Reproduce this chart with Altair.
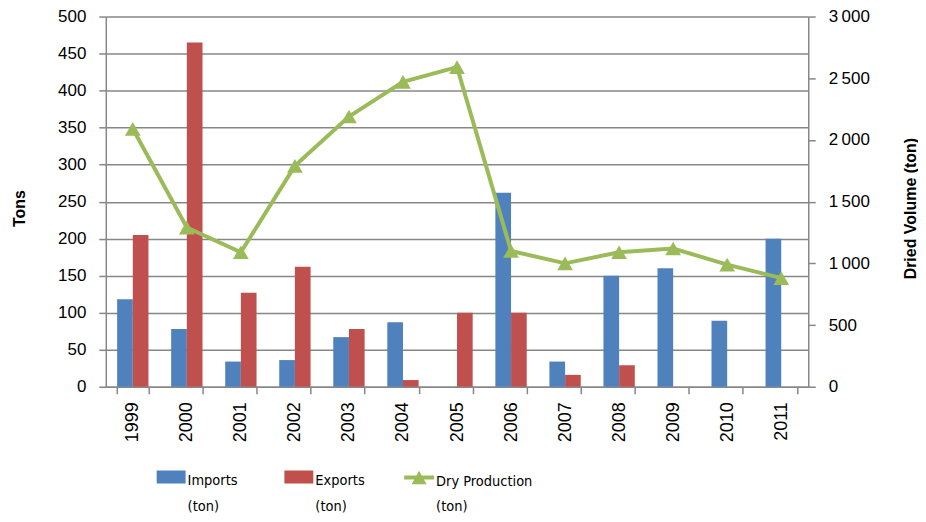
import altair as alt
import pandas as pd

years = ["1999", "2000", "2001", "2002", "2003", "2004", "2005",
         "2006", "2007", "2008", "2009", "2010", "2011"]
imports_ton = [118, 78, 34, 36, 67, 87, 0, 262, 34, 150, 160, 89, 200]
exports_ton = [205, 465, 127, 162, 78, 9, 100, 100, 16, 29, 0, 0, 0]
dry_production = [2090, 1290, 1090, 1790, 2190, 2470, 2590, 1100, 1000, 1090, 1120, 990, 880]

bar_series = ["Imports (ton)", "Exports (ton)"]
line_series = "Dry Production (ton)"
left_ticks = list(range(0, 501, 50))
right_ticks = list(range(0, 3001, 500))

BLUE = "#4F81BD"
RED = "#C0504D"
GREEN = "#9BBB59"
GRID = "#878787"
LEGEND_FONT = "'DejaVu Sans Condensed', 'Roboto Condensed', 'Liberation Sans', sans-serif"

bar_df = pd.DataFrame(
    [{"year": y, "series": bar_series[0], "value": v} for y, v in zip(years, imports_ton)]
    + [{"year": y, "series": bar_series[1], "value": v} for y, v in zip(years, exports_ton)]
)
dry_df = pd.DataFrame({"year": years, "dry": dry_production, "series": [line_series] * len(years)})

x_enc = alt.X(
    "year:N",
    sort=years,
    scale=alt.Scale(paddingInner=0.42, paddingOuter=0.21),
    axis=alt.Axis(
        title=None, labelAngle=270, labelAlign="right", labelBaseline="middle",
        labelFontSize=18, labelColor="#000000", labelPadding=8,
        tickBand="extent", tickSize=7, tickColor=GRID, domainColor=GRID,
        domainWidth=1.5, tickWidth=1.5, grid=False,
    ),
)

rect_symbol = "M-1,0.17H1V1.07H-1Z"
line_symbol = "M-1,0.47H1V0.73H-1Z M0,0.15L0.5,1.05L-0.5,1.05Z"

right_axis = alt.Axis(
    orient="right", title="Dried Volume (ton)", values=right_ticks, grid=False,
    tickSize=7, tickColor=GRID, tickWidth=1.5, domainColor=GRID, domainWidth=1.5,
    labelFontSize=17, labelColor="#000000", labelPadding=13,
    labelExpr="replace(format(datum.value, ',d'), ',', '\u2009')",
    titleFontSize=16, titleFontWeight="bold", titleAngle=270,
    titleX=102, titleY=192, titleBaseline="middle", titleAlign="center",
)

legend_common = dict(
    title=None, orient="none", labelFont=LEGEND_FONT, labelFontSize=14.5,
    labelColor="#000000", labelBaseline="line-top", labelOffset=2, padding=0,
    symbolStrokeWidth=0,
)

bars = alt.Chart(bar_df).mark_bar().encode(
    x=x_enc,
    xOffset=alt.XOffset("series:N", sort=bar_series,
                        scale=alt.Scale(domain=bar_series, paddingInner=0, paddingOuter=0)),
    y=alt.Y(
        "value:Q",
        scale=alt.Scale(domain=[0, 500], nice=False),
        axis=alt.Axis(
            title="Tons", values=left_ticks, grid=True, gridColor=GRID, gridWidth=1.5,
            tickSize=7, tickColor=GRID, tickWidth=1.5, domainColor=GRID, domainWidth=1.5,
            labelFontSize=17, labelColor="#000000", labelPadding=13,
            titleFontSize=16, titleFontWeight="bold", titleAngle=270,
            titleX=-86, titleY=192, titleBaseline="middle", titleAlign="center",
        ),
    ),
    color=alt.Color(
        "series:N",
        scale=alt.Scale(domain=bar_series, range=[BLUE, RED]),
        legend=alt.Legend(
            legendX=51, legendY=438, direction="horizontal",
            columns=2, columnPadding=46, symbolType=rect_symbol, symbolSize=841,
            labelExpr="split(datum.label, ' ')",
            **legend_common,
        ),
    ),
)

line = alt.Chart(dry_df).mark_line(color=GREEN, strokeWidth=4).encode(
    x=alt.X("year:N", sort=years),
    y=alt.Y("dry:Q", scale=alt.Scale(domain=[0, 3000], nice=False), axis=right_axis),
)

points = alt.Chart(dry_df).mark_point(
    filled=True, shape="triangle-up", size=250, color=GREEN
).encode(
    x=alt.X("year:N", sort=years),
    y=alt.Y("dry:Q", scale=alt.Scale(domain=[0, 3000], nice=False), axis=right_axis),
    opacity=alt.Opacity(
        "series:N",
        scale=alt.Scale(domain=[line_series], range=[1]),
        legend=alt.Legend(
            legendX=299, legendY=438,
            symbolType=line_symbol, symbolSize=900, symbolFillColor=GREEN,
            symbolOpacity=1,
            labelExpr="['Dry Production', '(ton)']",
            **legend_common,
        ),
    ),
)

chart = alt.layer(bars, alt.layer(line, points)).resolve_scale(
    y="independent", color="independent", opacity="independent"
).properties(
    width=704, height=371,
    padding={"left": 98, "top": 8, "right": 110, "bottom": 130},
    autosize=alt.AutoSizeParams(type="none"),
).configure(
    font="Liberation Sans",
    style={"guide-label": {"lineHeight": 26}},
).configure_view(strokeOpacity=0)

chart.save("out.html", embed_options={"renderer": "svg", "actions": False})
